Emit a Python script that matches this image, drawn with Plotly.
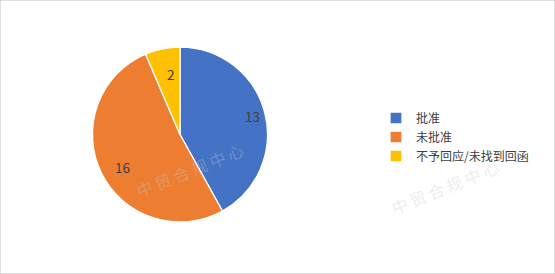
import math
import plotly.graph_objects as go

labels = ["批准", "未批准", "不予回应/未找到回函"]
values = [13, 16, 2]
colors = ["#4472C4", "#ED7D31", "#FFC000"]

W, H = 555, 274
cx, cy, R = 180, 134.5, 87.5
fig = go.Figure(go.Pie(
    labels=labels, values=values, sort=False, direction="clockwise", rotation=0,
    marker=dict(colors=colors, line=dict(color="white", width=1.3)),
    textinfo="none",
    domain=dict(x=[(cx-R)/W, (cx+R)/W], y=[(H-cy-R)/H, (H-cy+R)/H]),
    hoverinfo="label+value",
))

# data labels placed at ~0.85 radius, like the original chart
total = sum(values)
acc = 0
for v in values:
    mid = (acc + v/2) / total * 2*math.pi
    acc += v
    x = cx + 0.85*R*math.sin(mid)
    y = cy - 0.85*R*math.cos(mid)
    fig.add_annotation(x=x/W, y=1-y/H, xref="paper", yref="paper", text=str(v),
                       showarrow=False,
                       font=dict(family="Microsoft YaHei, Noto Sans CJK SC, sans-serif", size=13.5, color="#404040"))

# faint watermark text
for (x, y) in [(190, 205), (505, 222)]:
    fig.add_annotation(x=x/W, y=1-y/H, xref="paper", yref="paper", text="中 贸 合 规 中 心",
                       showarrow=False, textangle=-22,
                       font=dict(family="Noto Sans CJK SC", size=16, color="rgba(200,200,200,0.35)"))

fig.update_layout(
    width=W, height=H, margin=dict(l=0, r=0, t=0, b=0),
    paper_bgcolor="white", plot_bgcolor="white",
    showlegend=True,
    legend=dict(x=376/W, y=0.5, xanchor="left", yanchor="middle",
                font=dict(family="Microsoft YaHei, Noto Sans CJK SC, sans-serif", size=12, color="#404040"),
                itemwidth=30, tracegroupgap=0, bgcolor="rgba(0,0,0,0)"),
    shapes=[dict(type="rect", xref="paper", yref="paper", x0=0, y0=0, x1=1, y1=1,
                 line=dict(color="#BFBFBF", width=1))],
)
fig.write_html("out.html")
